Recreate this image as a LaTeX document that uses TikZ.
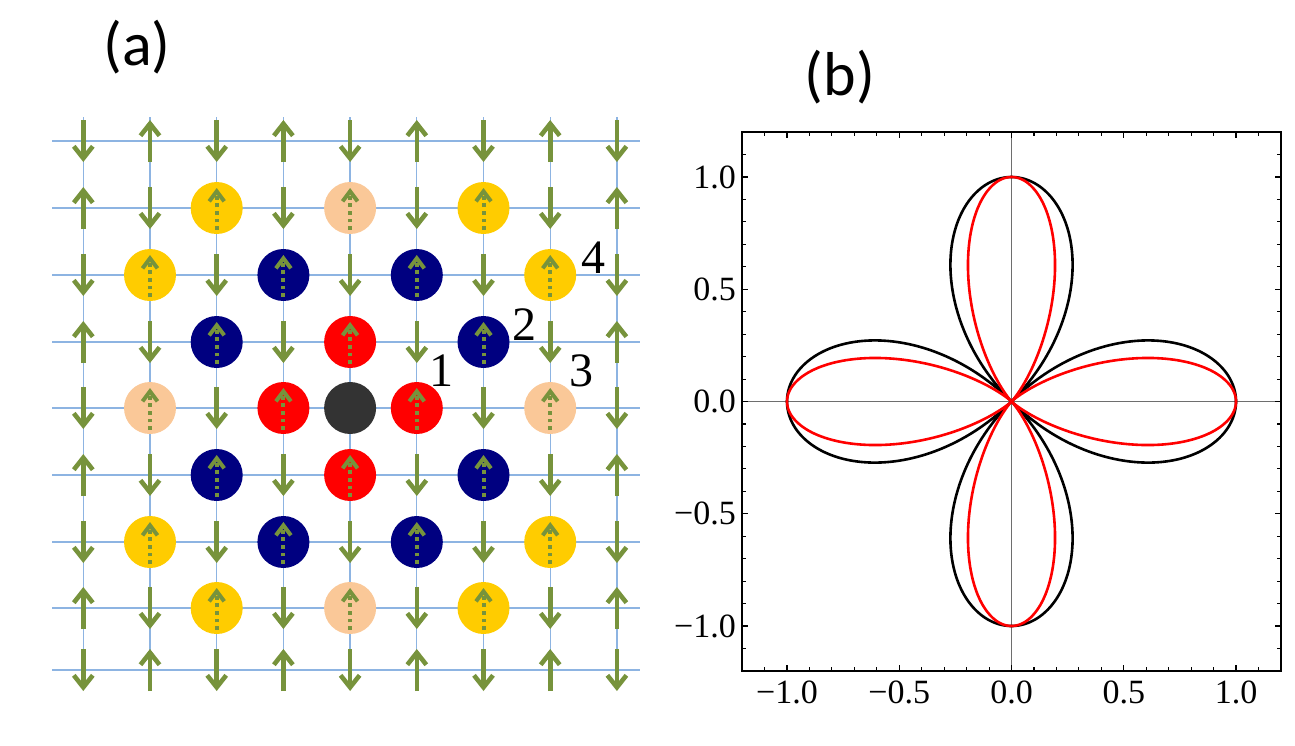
\documentclass[tikz,border=0pt]{standalone}
\usepackage{fontspec}
\setmainfont{Liberation Serif}
\newfontfamily\numfont{Liberation Serif}
\newfontfamily\panelfont{Carlito}
\usepackage{tikz}
\usetikzlibrary{arrows.meta}

\definecolor{spingreen}{RGB}{119,147,60}
\definecolor{gridblue}{RGB}{141,180,226}
\definecolor{siteyellow}{RGB}{255,204,0}
\definecolor{sitepeach}{RGB}{250,200,152}
\definecolor{sitenavy}{RGB}{0,0,128}
\definecolor{sitered}{RGB}{255,0,0}
\definecolor{sitecore}{RGB}{51,51,51}
\definecolor{axisgray}{RGB}{110,110,110}

\tikzset{
  spin/.style={spingreen, line width=4.6pt, -{Straight Barb[length=12pt,width=19pt]}},
  spindot/.style={spingreen, line width=4pt, dash pattern=on 3.8pt off 3.8pt,
    -{Straight Barb[length=10pt,width=15pt]}},
  gridline/.style={gridblue, line width=1.3pt},
  ticklabel/.style={font=\numfont\fontsize{34}{34}\selectfont, inner sep=0pt},
  sitelabel/.style={font=\numfont\fontsize{48}{48}\selectfont, inner sep=0pt},
  panellabel/.style={font=\panelfont\fontsize{62}{62}\selectfont, inner sep=0pt, anchor=base},
}

\begin{document}
\begin{tikzpicture}[x=1pt,y=-1pt]
\useasboundingbox (0,0) rectangle (1295,745);

% Panel labels
\node[panellabel] (pa) at (137,65) {(a)};
\node[panellabel] (pb) at (840,95) {(b)};

% Lattice sites
\foreach \y [count=\r from 0] in {141,208,275,342,408,475,542,608,670}
  \foreach \c in {0,...,8} {
    \pgfmathsetmacro\x{83.3+66.7*\c}
    \coordinate (s-\c-\r) at (\x,\y);
  }

% Draw the grid lines
\foreach \r in {0,...,8}
  \draw[gridline] (52,0 |- s-0-\r) -- (640,0 |- s-0-\r);
\foreach \c in {0,...,8}
  \draw[gridline] (s-\c-0 |- 0,117) -- (s-\c-0 |- 0,690);

% Spins (up if c+r odd)
\foreach \c in {0,...,8}
  \foreach \r in {0,...,8} {
    \pgfmathsetmacro\d{21*(1-2*mod(\c+\r,2))}
    \draw[spin] ([yshift=\d pt]s-\c-\r) -- ([yshift=-\d pt]s-\c-\r);
  }

% Neighbour shells
\foreach \c/\r/\col in {4/3/sitered, 3/4/sitered, 5/4/sitered, 4/5/sitered,
    3/2/sitenavy, 5/2/sitenavy, 2/3/sitenavy, 6/3/sitenavy,
    2/5/sitenavy, 6/5/sitenavy, 3/6/sitenavy, 5/6/sitenavy,
    4/1/sitepeach, 1/4/sitepeach, 7/4/sitepeach, 4/7/sitepeach,
    2/1/siteyellow, 6/1/siteyellow, 1/2/siteyellow, 7/2/siteyellow,
    1/6/siteyellow, 7/6/siteyellow, 2/7/siteyellow, 6/7/siteyellow} {
  \fill[\col] (s-\c-\r) circle[radius=26pt];
  \draw[spindot] ([yshift=-22pt]s-\c-\r) -- ([yshift=20pt]s-\c-\r);
}
\fill[sitecore] (s-4-4) circle[radius=26pt];

% Shell numbers
\node[sitelabel] (n1) at (441,371) {1};
\node[sitelabel] (n2) at (524,325) {2};
\node[sitelabel] (n3) at (581,371) {3};
\node[sitelabel] (n4) at (593,258) {4};

% Polar plot
\begin{scope}[shift={(1011.5,401.5)}, x={(224.5pt,0pt)}, y={(0pt,224.5pt)}]
  \draw[axisgray, line width=1.1pt] (-1.2,0) -- (1.2,0);
  \draw[axisgray, line width=1.1pt] (0,-1.2) -- (0,1.2);
  \foreach \k in {-11,...,11} {
    \pgfmathsetmacro\t{\k/10}
    \pgfmathsetmacro\l{ifthenelse(mod(abs(\k),5)==0,6,3.5)}
    \draw[line width=1.1pt] (\t,-1.2) -- ++(0,\l pt);
    \draw[line width=1.1pt] (\t,1.2) -- ++(0,-\l pt);
    \draw[line width=1.1pt] (-1.2,\t) -- ++(\l pt,0);
    \draw[line width=1.1pt] (1.2,\t) -- ++(-\l pt,0);
  }
  \draw[line width=1.4pt] (-1.2,-1.2) rectangle (1.2,1.2);
  % Tick labels
  \foreach \v/\txt in {-1/−1.0, -0.5/−0.5, 0/0.0, 0.5/0.5, 1/1.0} {
    \node[ticklabel, anchor=east] (yl\v) at ([xshift=-6pt]-1.2,\v) {\txt};
    \node[ticklabel, anchor=north] (xl\v) at ([yshift=-10pt]\v,-1.2) {\txt};
  }
  % Curves
  \draw[black, line width=2.6pt, domain=0:360, samples=721, variable=\t]
    plot ({cos(2*\t)*cos(\t)}, {cos(2*\t)*sin(\t)});
  \draw[red, line width=2.6pt, domain=0:360, samples=721, variable=\t]
    plot ({pow(abs(cos(2*\t)),2.2)*cos(\t)}, {pow(abs(cos(2*\t)),2.2)*sin(\t)});
\end{scope}
\end{tikzpicture}
\end{document}
